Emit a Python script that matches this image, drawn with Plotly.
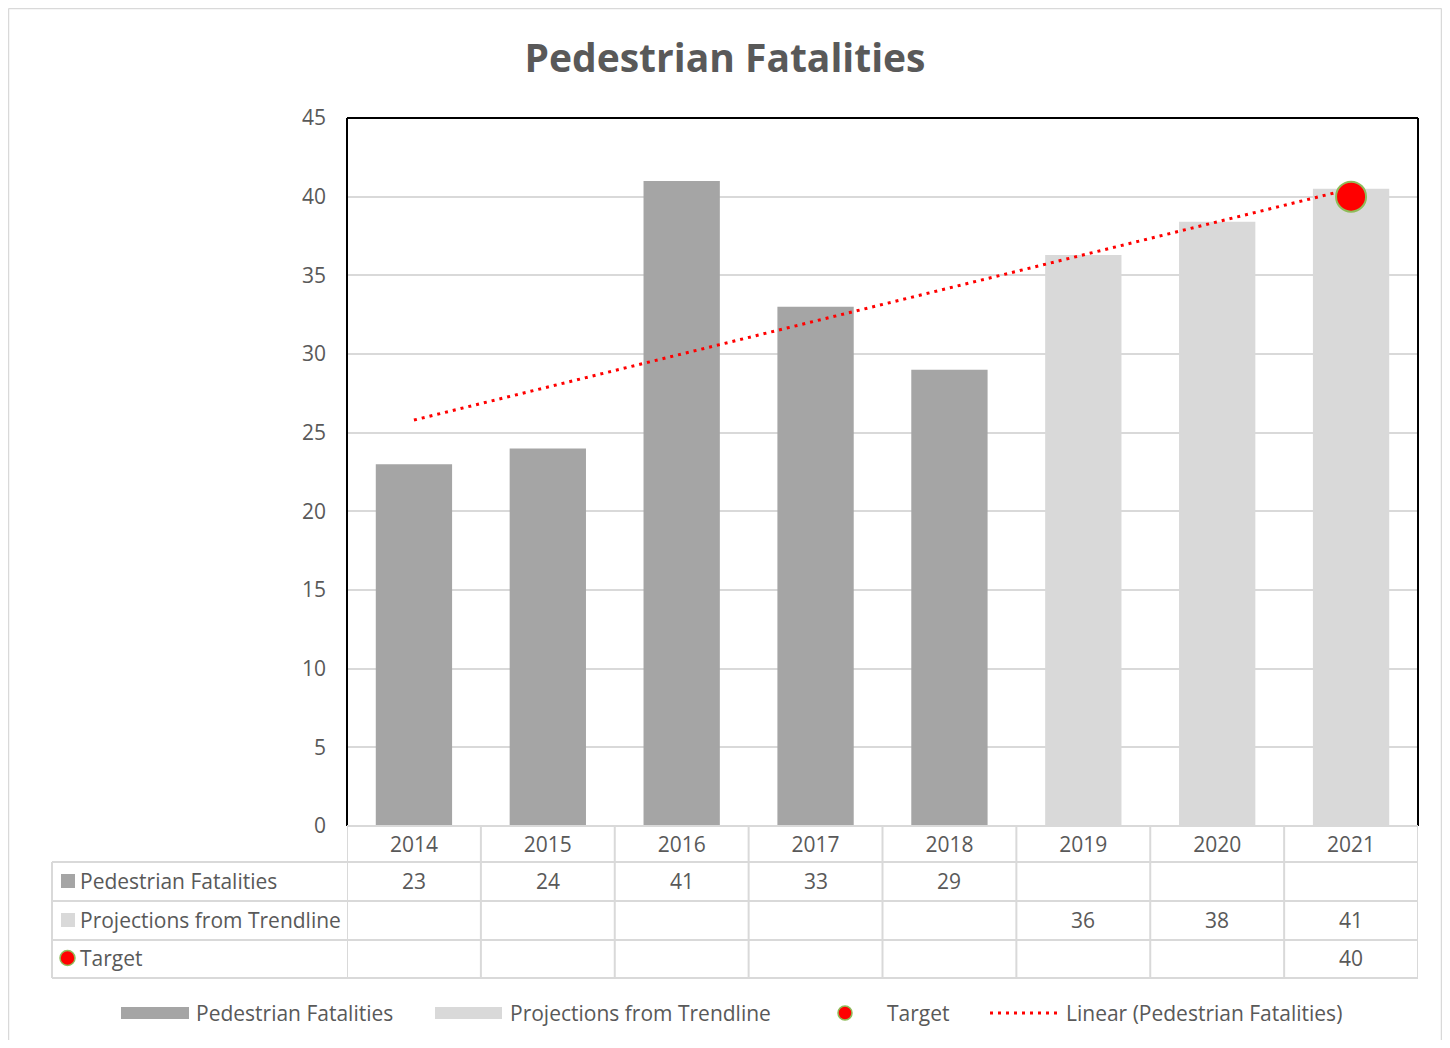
import math
import numpy as np
import plotly.graph_objects as go

# ---------------- data ----------------
years = [2014, 2015, 2016, 2017, 2018, 2019, 2020, 2021]
fatal_years = [2014, 2015, 2016, 2017, 2018]
fatalities = [23, 24, 41, 33, 29]
proj_years = [2019, 2020, 2021]
projections = [36.3, 38.4, 40.5]
target_years = [2021]
target = [40]

row_labels = ["Pedestrian Fatalities", "Projections from Trendline", "Target"]
title_text = "Pedestrian Fatalities"
trend_label = "Linear (Pedestrian Fatalities)"

# linear trendline fitted on the actual fatalities (as Excel does)
slope, intercept = np.polyfit(fatal_years, fatalities, 1)
trend_vals = [slope * y + intercept for y in years]

# ---------------- styling ----------------
FONT = "Open Sans"
FS = 21
TXT = "#595959"
C_FAT = "#a5a5a5"
C_PROJ = "#d9d9d9"
GRID = "#d9d9d9"

W, H = 1434, 1032
OFF = 8  # default body margin in html page
PL, PR, PT, PB = 347, 1418, 118, 826  # plot area in screen px


def px(X):
    return (X - PL) / (PR - PL)


def py(Y):
    return (PB - Y) / (PB - PT)


fig = go.Figure()

fig.add_trace(go.Bar(x=fatal_years, y=fatalities, name=row_labels[0],
                     marker=dict(color=C_FAT, line=dict(width=0)), width=0.57,
                     showlegend=False))
fig.add_trace(go.Bar(x=proj_years, y=projections, name=row_labels[1],
                     marker=dict(color=C_PROJ, line=dict(width=0)), width=0.57,
                     showlegend=False))
fig.add_trace(go.Scatter(x=years, y=trend_vals, mode="lines", name=trend_label,
                         line=dict(color="#ff0000", width=3, dash="3px,5px"),
                         showlegend=False))
fig.add_trace(go.Scatter(x=target_years, y=target, mode="markers", name=row_labels[2],
                         marker=dict(color="#ff0000", size=30,
                                     line=dict(color="#8fbc5a", width=2)),
                         showlegend=False))

shapes = []
annotations = []

# plot-area frame (left, top, right in black)
for (x0, y0, x1, y1) in [(0, 0, 0, 1), (0, 1, 1, 1), (1, 1, 1, 0)]:
    shapes.append(dict(type="line", xref="paper", yref="paper", x0=x0, y0=y0, x1=x1, y1=y1,
                       line=dict(color="black", width=2), layer="above"))

# ---------------- data table grid ----------------
row_lines = [826, 862, 901, 940, 978]
row_centers = [881, 920, 958]
tbl_left = 52
for i, Y in enumerate(row_lines):
    x0 = px(PL) if i == 0 else px(tbl_left)
    shapes.append(dict(type="line", xref="paper", yref="paper", x0=x0, x1=1, y0=py(Y), y1=py(Y),
                       line=dict(color=GRID, width=2)))
shapes.append(dict(type="line", xref="paper", yref="paper", x0=px(tbl_left), x1=px(tbl_left),
                   y0=py(862), y1=py(978), line=dict(color=GRID, width=2)))
for k in range(len(years) + 1):
    xb = years[0] - 0.5 + k
    shapes.append(dict(type="line", xref="x", yref="paper", x0=xb, x1=xb,
                       y0=py(826), y1=py(978), line=dict(color=GRID, width=2)))

# row labels with keys
for i, lab in enumerate(row_labels):
    yc = row_centers[i]
    if i < 2:
        col = C_FAT if i == 0 else C_PROJ
        shapes.append(dict(type="rect", xref="paper", yref="paper", x0=px(61), x1=px(75),
                           y0=py(yc + 7), y1=py(yc - 7), fillcolor=col, line=dict(width=0)))
    else:
        shapes.append(dict(type="circle", xref="paper", yref="paper", x0=px(60), x1=px(75),
                           y0=py(yc + 7.5), y1=py(yc - 7.5), fillcolor="#ff0000",
                           line=dict(color="#8fbc5a", width=1.5)))
    annotations.append(dict(xref="paper", yref="paper", x=px(78), y=py(yc), text=lab,
                            showarrow=False, xanchor="left", yanchor="middle",
                            font=dict(family=FONT, size=FS, color=TXT)))


def fmt(v):
    return str(int(math.floor(v + 0.5)))


for series_x, series_y, yc in [(fatal_years, fatalities, row_centers[0]),
                               (proj_years, projections, row_centers[1]),
                               (target_years, target, row_centers[2])]:
    for xv, yv in zip(series_x, series_y):
        annotations.append(dict(xref="x", yref="paper", x=xv, y=py(yc), text=fmt(yv),
                                showarrow=False, xanchor="center", yanchor="middle",
                                font=dict(family=FONT, size=FS, color=TXT)))

# ---------------- legend (custom, bottom) ----------------
LY = 1013
shapes.append(dict(type="rect", xref="paper", yref="paper", x0=px(121), x1=px(189),
                   y0=py(LY + 6), y1=py(LY - 6), fillcolor=C_FAT, line=dict(width=0)))
shapes.append(dict(type="rect", xref="paper", yref="paper", x0=px(435), x1=px(502),
                   y0=py(LY + 6), y1=py(LY - 6), fillcolor=C_PROJ, line=dict(width=0)))
shapes.append(dict(type="circle", xref="paper", yref="paper", x0=px(838), x1=px(852),
                   y0=py(LY + 7), y1=py(LY - 7), fillcolor="#ff0000",
                   line=dict(color="#8fbc5a", width=1.5)))
shapes.append(dict(type="line", xref="paper", yref="paper", x0=px(990), x1=px(1058),
                   y0=py(LY), y1=py(LY), line=dict(color="#ff0000", width=3, dash="3px,5px")))
for xl, lab in [(194, row_labels[0]), (508, row_labels[1]), (885, row_labels[2]), (1064, trend_label)]:
    annotations.append(dict(xref="paper", yref="paper", x=px(xl), y=py(LY), text=lab,
                            showarrow=False, xanchor="left", yanchor="middle",
                            font=dict(family=FONT, size=FS, color=TXT)))

# outer chart border (light gray)
for (X0, Y0, X1, Y1) in [(OFF, OFF, OFF, OFF + H), (OFF, OFF, OFF + W - 1, OFF),
                         (OFF + W - 1, OFF, OFF + W - 1, OFF + H)]:
    shapes.append(dict(type="line", xref="paper", yref="paper", x0=px(X0 + 0.5), x1=px(X1 + 0.5),
                       y0=py(Y0 + 0.5), y1=py(Y1 + 0.5), line=dict(color="#d9d9d9", width=1.5)))

fig.update_layout(
    width=W, height=H,
    margin=dict(l=PL - OFF, r=OFF + W - PR, t=PT - OFF, b=OFF + H - PB, pad=0),
    paper_bgcolor="white", plot_bgcolor="white",
    barmode="overlay",
    title=dict(text=title_text, x=0.5, xref="container", xanchor="center",
               y=1 - (58 - OFF) / H, yref="container", yanchor="middle",
               font=dict(family=FONT, size=39, color=TXT, weight="bold")),
    font=dict(family=FONT, color=TXT, size=FS),
    xaxis=dict(range=[years[0] - 0.5, years[-1] + 0.5], tickvals=years,
               ticktext=[str(y) for y in years], showgrid=False, zeroline=False,
               showline=False, ticks="", ticklabelstandoff=4,
               tickfont=dict(family=FONT, size=FS, color=TXT)),
    yaxis=dict(range=[0, 45], dtick=5, tick0=0, showgrid=True, gridcolor=GRID, gridwidth=2,
               zeroline=False, showline=False, ticks="", ticklabelstandoff=20,
               tickfont=dict(family=FONT, size=FS, color=TXT)),
    shapes=shapes, annotations=annotations,
    showlegend=False,
)

fig.write_html("out.html")
